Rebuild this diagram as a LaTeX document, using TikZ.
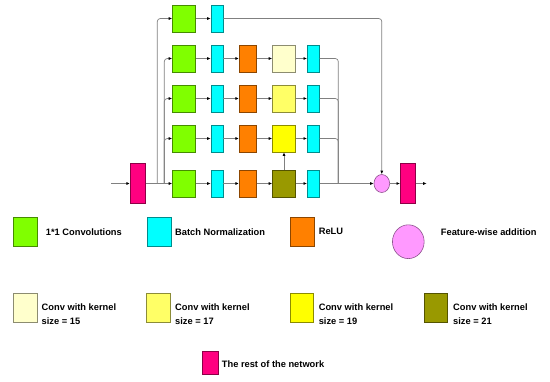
\documentclass[tikz,border=0pt]{standalone}
\usepackage{fontspec}
\setmainfont{Liberation Sans}
\usetikzlibrary{arrows,arrows.meta}
\usetikzlibrary{shapes}

\definecolor{convgreen}{HTML}{80FF00}
\definecolor{bncyan}{HTML}{00FFFF}
\definecolor{reluorange}{HTML}{FF8000}
\definecolor{kerA}{HTML}{FFFFCC}
\definecolor{kerB}{HTML}{FFFF66}
\definecolor{kerC}{HTML}{FFFF00}
\definecolor{kerD}{HTML}{999900}
\definecolor{restpink}{HTML}{FF0080}
\definecolor{addpink}{HTML}{FF99FF}

\tikzset{
  blk/.style={draw=#1!55!black, fill=#1, inner sep=0pt, line width=0.6pt},
  lnk/.style={draw=black!50, line width=0.7pt},
  lbl/.style={anchor=west, font=\bfseries\fontsize{9.3}{13.5}\selectfont, inner sep=0pt, align=left},
}

\begin{document}
\begin{tikzpicture}[x=1pt,y=-1pt,>={Latex[black,length=3.5pt,width=3pt]}]
    \useasboundingbox (0,0) rectangle (550,381);

    % blocks of the module
    \node[blk=restpink, minimum width=15pt, minimum height=40pt] (rest1) at (137.7,183.5) {};
    \node[blk=restpink, minimum width=15pt, minimum height=40pt] (rest2) at (407.8,183.5) {};
    \node[ellipse, blk=addpink, minimum width=15.7pt, minimum height=18pt] (add) at (381.8,183.5) {};
    \coordinate (in) at (111,183.5);
    \coordinate (out) at (426.7,183.5);

    \foreach \r/\y in {1/18.5,2/58.5,3/98.5,4/138.5,5/183.5} {
        \node[blk=convgreen, minimum width=23pt, minimum height=27pt] (g\r) at (184,\y) {};
        \node[blk=bncyan, minimum width=12pt, minimum height=27pt] (b\r) at (217,\y) {};
        \draw[->,lnk] (g\r) -- (b\r);
    }
    \foreach \r/\y/\c in {2/58.5/kerA,3/98.5/kerB,4/138.5/kerC,5/183.5/kerD} {
        \node[blk=reluorange, minimum width=17pt, minimum height=27pt] (r\r) at (247.7,\y) {};
        \node[blk=\c, minimum width=23pt, minimum height=27pt] (k\r) at (284,\y) {};
        \node[blk=bncyan, minimum width=12pt, minimum height=27pt] (n\r) at (313.3,\y) {};
        \draw[->,lnk] (b\r) -- (r\r);
        \draw[->,lnk] (r\r) -- (k\r);
        \draw[->,lnk] (k\r) -- (n\r);
    }

    % connections
    \coordinate (s1) at (157.3,183.5);
    \coordinate (s2) at (164.3,183.5);
    \coordinate (m) at (338.3,183.5);
    \draw[->,lnk] (in) -- (rest1);
    \draw[->,lnk] (rest1) -- (g5);
    \draw[->,lnk,rounded corners=3pt] (s1) |- (g1);
    \foreach \r in {2,3,4}
        \draw[->,lnk,rounded corners=3pt] (s2) |- (g\r);
    \foreach \r in {2,3,4}
        \draw[lnk,rounded corners=3pt] (n\r) -| (m);
    \draw[->,lnk] (n5) -- (add);
    \draw[->,lnk,rounded corners=3pt] (b1) -| (add);
    \draw[->,lnk] (k5) -- (k4);
    \draw[->,lnk] (add) -- (rest2);
    \draw[->,lnk] (rest2) -- (out);

    % legend
    \foreach \c/\x/\tx/\t/\k in {convgreen/25.2/45.7/1*1 Convolutions/0,
            bncyan/159.5/175/Batch Normalization/1,
            reluorange/302.1/318.6/ReLU/2} {
        \node[blk=\c, minimum width=23.5pt, minimum height=29pt] (lg\k) at (\x,231.5) {};
        \node[lbl] (lt\k) at (\tx,231.8) {\t};
    }
    \node[ellipse, blk=addpink, minimum width=31.7pt, minimum height=33.8pt] (lg3) at (408.3,241.7) {};
    \node[lbl] (lt3) at (440.7,231.8) {Feature-wise addition};

    \foreach \c/\x/\tx/\s/\k in {kerA/25.2/41.5/15/4,kerB/158.4/175/17/5,
            kerC/301.9/318.6/19/6,kerD/436/453/21/7} {
        \node[blk=\c, minimum width=23.5pt, minimum height=29pt] (lg\k) at (\x,307.8) {};
        \node[lbl] (lt\k) at (\tx,314) {Conv with kernel\\size = \s};
    }

    \node[blk=restpink, minimum width=16pt, minimum height=22.6pt] (lg8) at (210.3,363) {};
    \node[lbl] (lt8) at (221.7,364) {The rest of the network};
\end{tikzpicture}
\end{document}
